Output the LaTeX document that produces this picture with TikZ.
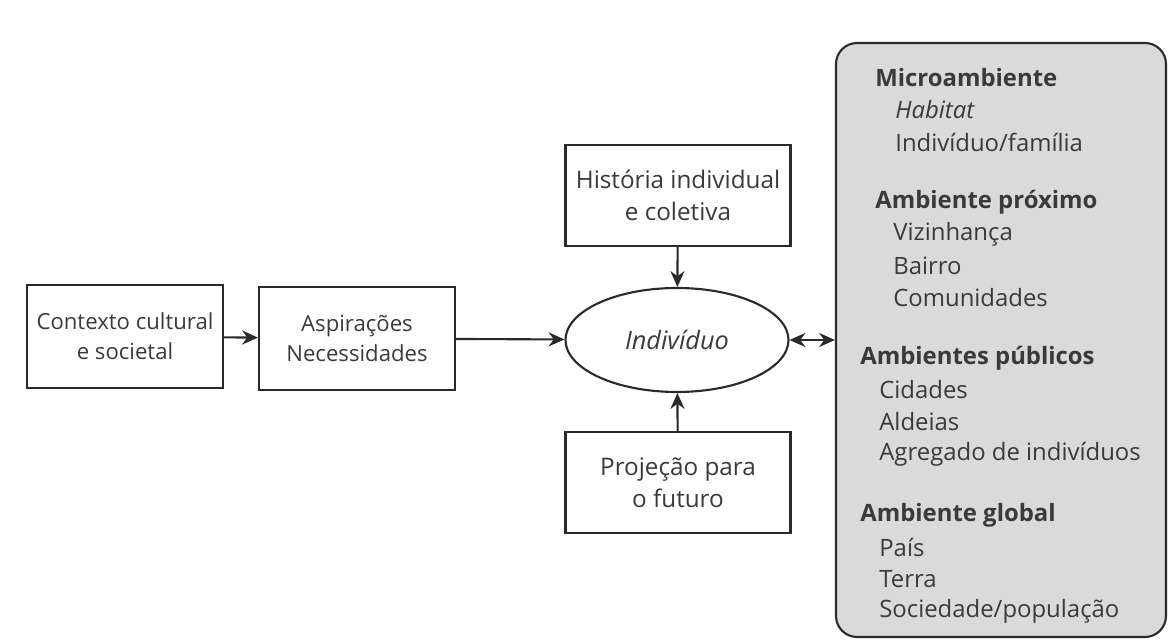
\documentclass[tikz,border=0pt]{standalone}
\usepackage{fontspec}
\setmainfont{Open Sans}
\usepackage{tikz}
\usetikzlibrary{shapes.geometric, arrows.meta}

\definecolor{ink}{HTML}{2A2A2A}
\definecolor{txt}{HTML}{3A3A3A}
\definecolor{panelgray}{HTML}{DADADA}

\begin{document}
\begin{tikzpicture}[
    font=\fontsize{12.6pt}{17pt}\selectfont,
    box/.style={draw=ink, line width=1.2pt, text=txt, align=center,
        minimum width=3.92cm, minimum height=2.06cm, inner sep=2pt},
    vbox/.style={box, minimum width=4.5cm, minimum height=2.02cm,
        font=\fontsize{13.8pt}{18.5pt}\selectfont},
    arr/.style={draw=ink, line width=1.2pt, -{Stealth[length=9pt,width=8pt]}},
    item/.style={anchor=west, inner sep=0pt, text=txt, font=\fontsize{13.6pt}{16pt}\selectfont}
]
    \useasboundingbox (0,0) rectangle (23.4,12.88);

    % Panel of environments
    \node[draw=ink, line width=1.2pt, fill=panelgray, rounded corners=0.42cm,
        minimum width=6.6cm, minimum height=11.88cm] (panel) at (20.02, 6.08) {};

    % Boxes and the individual
    \node[box] (contexto) at (2.5, 6.15) {Contexto cultural\\e societal};
    \node[box] (aspir) at (7.14, 6.11) {Aspirações\\Necessidades};
    \node[draw=ink, line width=1.2pt, ellipse, text=txt, minimum width=4.46cm,
        minimum height=2.08cm, inner sep=0pt,
        font=\fontsize{14.4pt}{16pt}\selectfont\itshape] (indiv) at (13.54, 6.08) {Indivíduo};
    \node[vbox] (hist) at (13.56, 8.97) {História individual\\e coletiva};
    \node[vbox] (proj) at (13.56, 3.23) {Projeção para\\o futuro};

    % Arrows
    \draw[arr] (contexto) -- (aspir);
    \draw[arr] (aspir) -- (indiv);
    \draw[arr] (hist) -- (indiv);
    \draw[arr] (proj) -- (indiv);
    \draw[arr, {Stealth[length=9pt,width=8pt]}-{Stealth[length=9pt,width=8pt]}] (indiv) -- (panel);

    % Headings
    \foreach \nm/\x/\y/\txt in {h1/17.5/11.32/Microambiente, h2/17.5/8.84/Ambiente próximo,
        h3/17.2/5.72/Ambientes públicos, h4/17.2/2.58/Ambiente global} {
        \node[item, font=\fontsize{13.6pt}{16pt}\selectfont\bfseries] (\nm) at (\x, \y) {\txt};
    }

    % Entries
    \node[item, font=\fontsize{13.6pt}{16pt}\selectfont\itshape] (habitat) at (17.9, 10.68) {Habitat};
    \foreach \nm/\x/\y/\txt in {fam/17.9/10.04/Indivíduo{/}família,
        viz/17.86/8.20/Vizinhança, bairro/17.86/7.56/Bairro, comun/17.86/6.92/Comunidades,
        cid/17.58/5.08/Cidades, ald/17.58/4.44/Aldeias, agr/17.58/3.80/Agregado de indivíduos,
        pais/17.58/1.94/País, terra/17.58/1.30/Terra, soc/17.58/0.66/Sociedade{/}população} {
        \node[item] (\nm) at (\x, \y) {\txt};
    }
\end{tikzpicture}
\end{document}
